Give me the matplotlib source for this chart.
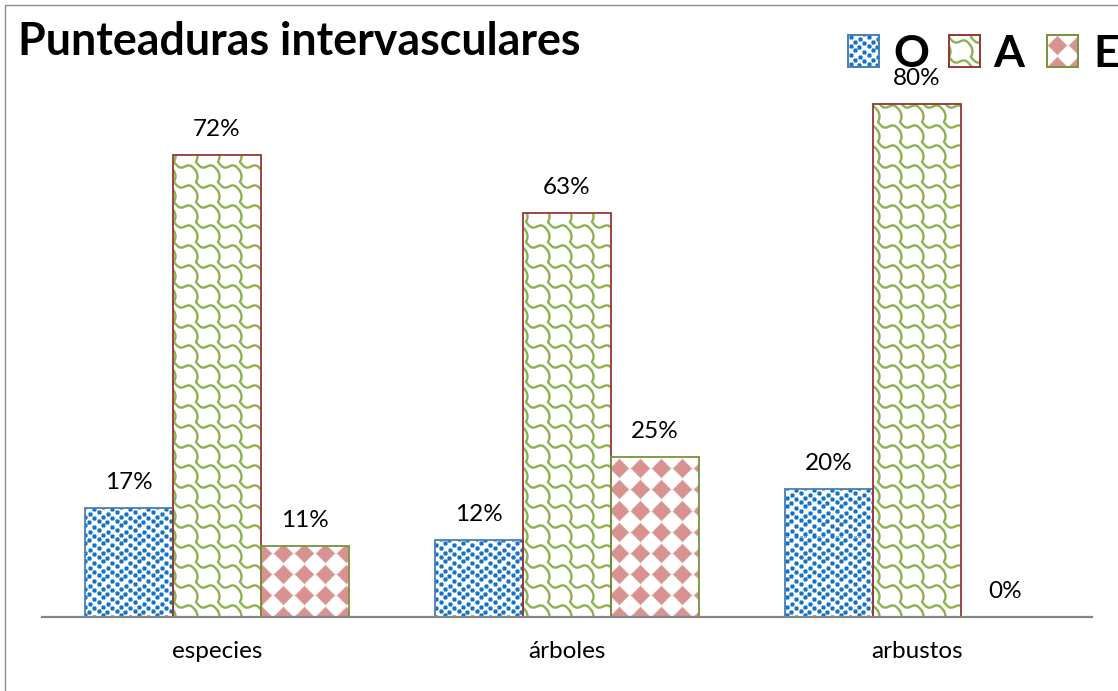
import numpy as np
import matplotlib
matplotlib.use('Agg')
import matplotlib.pyplot as plt
from matplotlib.patches import Rectangle

# ---------------- data ----------------
categories = ['especies', 'árboles', 'arbustos']
series_names = ['O', 'A', 'E']
values_O = [17, 12, 20]
values_A = [72, 63, 80]
values_E = [11, 25, 0]
title_text = 'Punteaduras intervasculares'

# ---------------- style ----------------
FONT = 'Lato'
plt.rcParams['font.family'] = [FONT, 'DejaVu Sans']
W, H, DPI = 1118, 691, 100
edge_colors = ['#4A7EBB', '#953735', '#77933C']

BLUE = np.array([0.08, 0.45, 0.78])
GREEN = np.array([0.55, 0.70, 0.31])
PINK = np.array([0.85, 0.58, 0.57])


def tex_O(h, w):
    T = 18
    t = np.ones((T, T, 3))
    pos = [(0, 1), (2, 10), (5, 5), (6, 14), (9, 1), (10, 9), (13, 5), (15, 14)]
    for r, c in pos:
        for dr in range(5):
            for dc in range(5):
                outer = dr in (0, 4) or dc in (0, 4)
                corner = dr in (0, 4) and dc in (0, 4)
                if corner:
                    continue
                col = BLUE if not outer else 0.55 * BLUE + 0.45
                t[(r + dr) % T, (c + dc) % T] = col
    reps = (h // T + 2, w // T + 2, 1)
    return np.tile(t, reps)[:h, :w]


def tex_A(h, w):
    TW, TH = 22, 20
    us = np.linspace(0, TW, 500)
    vs = 2 + 9 * us / TW + 3.0 * np.sin(2 * np.pi * us / TW)
    pu = np.concatenate([us, 1.5 * np.sin(np.linspace(0, np.pi, 150))])
    pv = np.concatenate([vs, np.linspace(-9, 2, 150)])
    yy, xx = np.mgrid[0:TH, 0:TW] + 0.5
    dmin = np.full((TH, TW), 1e9)
    for su in (-TW, 0, TW):
        for sv in (-TH, 0, TH):
            d = np.sqrt((xx[..., None] - (pu + su)) ** 2 + (yy[..., None] - (pv + sv)) ** 2).min(-1)
            dmin = np.minimum(dmin, d)
    inten = np.clip(1.7 - dmin, 0, 1)[..., None]
    t = (1 - inten) * 1.0 + inten * GREEN
    reps = (h // TH + 2, w // TW + 2, 1)
    return np.tile(t, reps)[:h, :w]


def tex_E(h, w):
    P = 21
    yy, xx = np.mgrid[0:h, 0:w] + 0.5
    dx = (xx % P) - P / 2
    dy = (yy % P) - P / 2
    d = np.abs(dx) + np.abs(dy)
    inten = np.clip((9.6 - d) / 1.8 + 0.5, 0, 1)[..., None]
    return (1 - inten) * 1.0 + inten * PINK


textures = [tex_O, tex_A, tex_E]
series_values = [values_O, values_A, values_E]

# ---------------- figure ----------------
fig = plt.figure(figsize=(W / DPI, H / DPI), dpi=DPI)
fig.patches.append(Rectangle((5 / W, -0.1), 1.2, (H - 5) / H + 0.1, transform=fig.transFigure,
                             fill=False, edgecolor='#8C8C8C', lw=1.0))

ax_l, ax_r, ax_b, ax_t = 42, 1092, 617, 60
ax = fig.add_axes([ax_l / W, 1 - ax_b / H, (ax_r - ax_l) / W, (ax_b - ax_t) / H])
xlim = (-0.5, len(categories) - 0.5)
ylim = (0, (ax_b - ax_t) / 6.41)
ax.set_xlim(*xlim)
ax.set_ylim(*ylim)

hpx, wpx = ax_b - ax_t, ax_r - ax_l
bw = 88 / 350
x = np.arange(len(categories))
offsets = [-bw, 0, bw]

for j, (vals, tex, ec) in enumerate(zip(series_values, textures, edge_colors)):
    lws = [1.3 if v > 0 else 0 for v in vals]
    bars = ax.bar(x + offsets[j], vals, bw, facecolor='none', edgecolor=ec, linewidth=lws, zorder=3)
    img = tex(hpx, wpx)
    for patch, v in zip(bars, vals):
        im = ax.imshow(img, extent=(xlim[0], xlim[1], ylim[0], ylim[1]), origin='upper',
                       interpolation='nearest', aspect='auto', zorder=2)
        im.set_clip_path(patch)
        ax.annotate(f'{v}%', (patch.get_x() + patch.get_width() / 2, v), xytext=(0, 18.5),
                    textcoords='offset points', ha='center', va='center', fontsize=17.5, color='black')

ax.set_xlim(*xlim)
ax.set_ylim(*ylim)
for s in ['top', 'left', 'right']:
    ax.spines[s].set_visible(False)
ax.spines['bottom'].set_color('#868686')
ax.spines['bottom'].set_linewidth(1.6)
ax.spines['bottom'].set_zorder(4)
ax.set_yticks([])
ax.set_xticks(x)
ax.set_xticklabels(categories, fontsize=17.5)
ax.tick_params(axis='x', length=0, pad=17.5)

# title
fig.text(18 / W, 1 - 55 / H, title_text, fontsize=32.2, fontweight='bold', ha='left', va='baseline')

# legend
leg_sq = [848, 949, 1047]
leg_txt = [893, 993, 1093]
for j, name in enumerate(series_names):
    lax = fig.add_axes([leg_sq[j] / W, 1 - 67 / H, 31 / W, 32 / H])
    lax.imshow(textures[j](32, 31), interpolation='nearest', aspect='auto')
    lax.set_xticks([])
    lax.set_yticks([])
    for s in lax.spines.values():
        s.set_color(edge_colors[j])
        s.set_linewidth(1.4)
    fig.text(leg_txt[j] / W, 1 - 67 / H, name, fontsize=32, fontweight='bold', ha='left', va='baseline')

fig.savefig('out.png', dpi=DPI)
